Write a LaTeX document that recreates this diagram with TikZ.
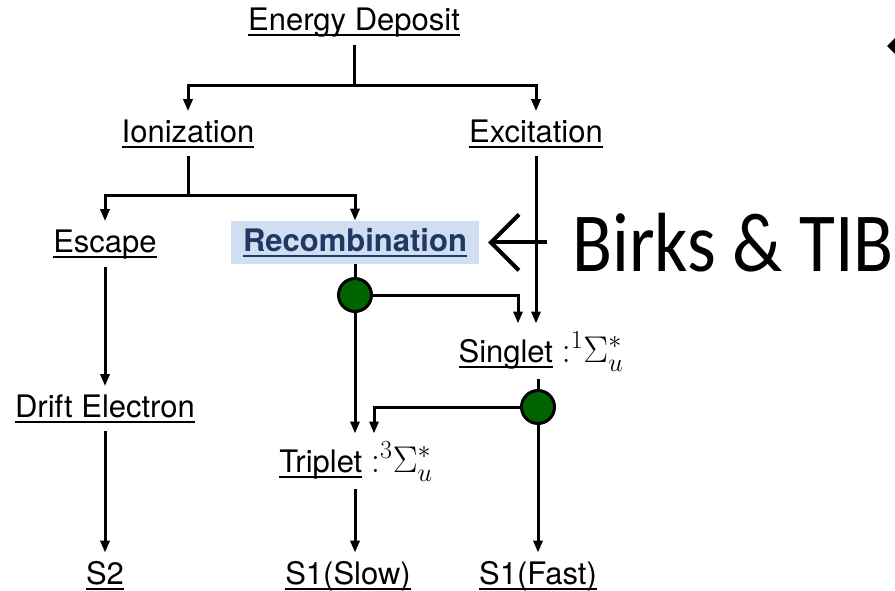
\RequirePackage{fix-cm}
\documentclass[tikz,border=0pt]{standalone}
\usepackage[no-math]{fontspec}
\setmainfont{TeX Gyre Heros}
\newfontfamily\birksfont{Carlito}[FakeStretch=0.875]
\usepackage{xcolor}
\usetikzlibrary{positioning,arrows.meta}
\definecolor{dotgreen}{RGB}{0,100,0}
\definecolor{recblue}{RGB}{31,56,100}
\definecolor{recfill}{RGB}{207,223,241}
\newcommand{\ulword}[1]{\setbox0\hbox{#1}\rlap{\rule[-6pt]{\wd0}{2pt}}\box0}
\newcommand{\stateterm}[1]{\scalebox{1.2}{$\mathord{:}^{#1}\Sigma_u^*$}}

\begin{document}
\begin{tikzpicture}[
    x=1pt, y=-1pt,
    lbl/.style={anchor=base, inner sep=8pt, font=\fontsize{31}{36}\selectfont},
    rec/.style={lbl, fill=recfill, text=recblue, font=\fontsize{31}{36}\selectfont\bfseries, inner xsep=12pt, inner ysep=7pt},
    dot/.style={circle, draw, line width=3pt, fill=dotgreen, minimum size=33pt, inner sep=0pt},
    link/.style={line width=3pt},
    arrow/.style={link, -{Triangle[length=12pt,width=9pt]}},
    birks/.style={line width=4pt, -{Straight Barb[length=28pt,width=56pt]}}
]
    \useasboundingbox (0,0) rectangle (895,590);

    % Deposit
    \node[lbl] (ed) at (354,30) {\ulword{Energy Deposit}};

    % First split
    \node[lbl] (ion) at (188,142) {\ulword{Ionization}};
    \node[lbl] (exc) at (536,142) {\ulword{Excitation}};

    % Ionization products
    \node[lbl] (esc) at (105,252) {\ulword{Escape}};
    \node[rec] (rec) at (355,251) {\ulword{Recombination}};
    \node[inner sep=0pt, right=93pt of rec, font=\birksfont\fontsize{84}{90}\selectfont] (birks) {Birks \& TIB};

    % Excited states
    \node[lbl] (sing) at (541,362) {\ulword{Singlet}\ \stateterm{1}};
    \node[lbl] (trip) at (356,472) {\ulword{Triplet}\ \stateterm{3}};
    \node[lbl] (drift) at (105,417) {\ulword{Drift Electron}};

    % Signals
    \node[lbl] (s2) at (105,584) {\ulword{S2}};
    \node[lbl] (slow) at (348,584) {\ulword{S1(Slow)}};
    \node[lbl] (fast) at (538,584) {\ulword{S1(Fast)}};

    % Branch points
    \coordinate (j1) at (354,85);
    \coordinate (j2) at (188,195);
    \node[dot] (d1) at (355,295) {};
    \node[dot] (d2) at (538,407) {};

    % Arrows
    \draw[link] (ed) -- (j1);
    \draw[arrow] (j1) -| (ion.north);
    \draw[arrow] (j1) -| (exc.north);
    \draw[link] (ion) -- (j2);
    \draw[arrow] (j2) -| (esc.north);
    \draw[arrow] (j2) -| (rec.north);
    \draw[arrow] (exc) -- (exc |- sing.north);
    \draw[link] (rec) -- (d1);
    \draw[arrow] (d1) -| ([xshift=-23pt]sing.north);
    \draw[arrow] (d1) -- (d1 |- trip.north);
    \draw[link] (d2 |- sing.south) -- (d2);
    \draw[arrow] (d2) -| ([xshift=18pt]trip.north);
    \draw[arrow] (d2) -- (d2 |- fast.north);
    \draw[arrow] (d1 |- trip.south) -- (d1 |- slow.north);
    \draw[arrow] (esc) -- (drift);
    \draw[arrow] (drift) -- (s2);
    \draw[birks] ([xshift=-25pt]birks.west) -- ([xshift=9pt]rec.east);

    % Cut-off tip at the edge
    \fill (887,46) -- (895,38) -- (895,54) -- cycle;
\end{tikzpicture}
\end{document}
